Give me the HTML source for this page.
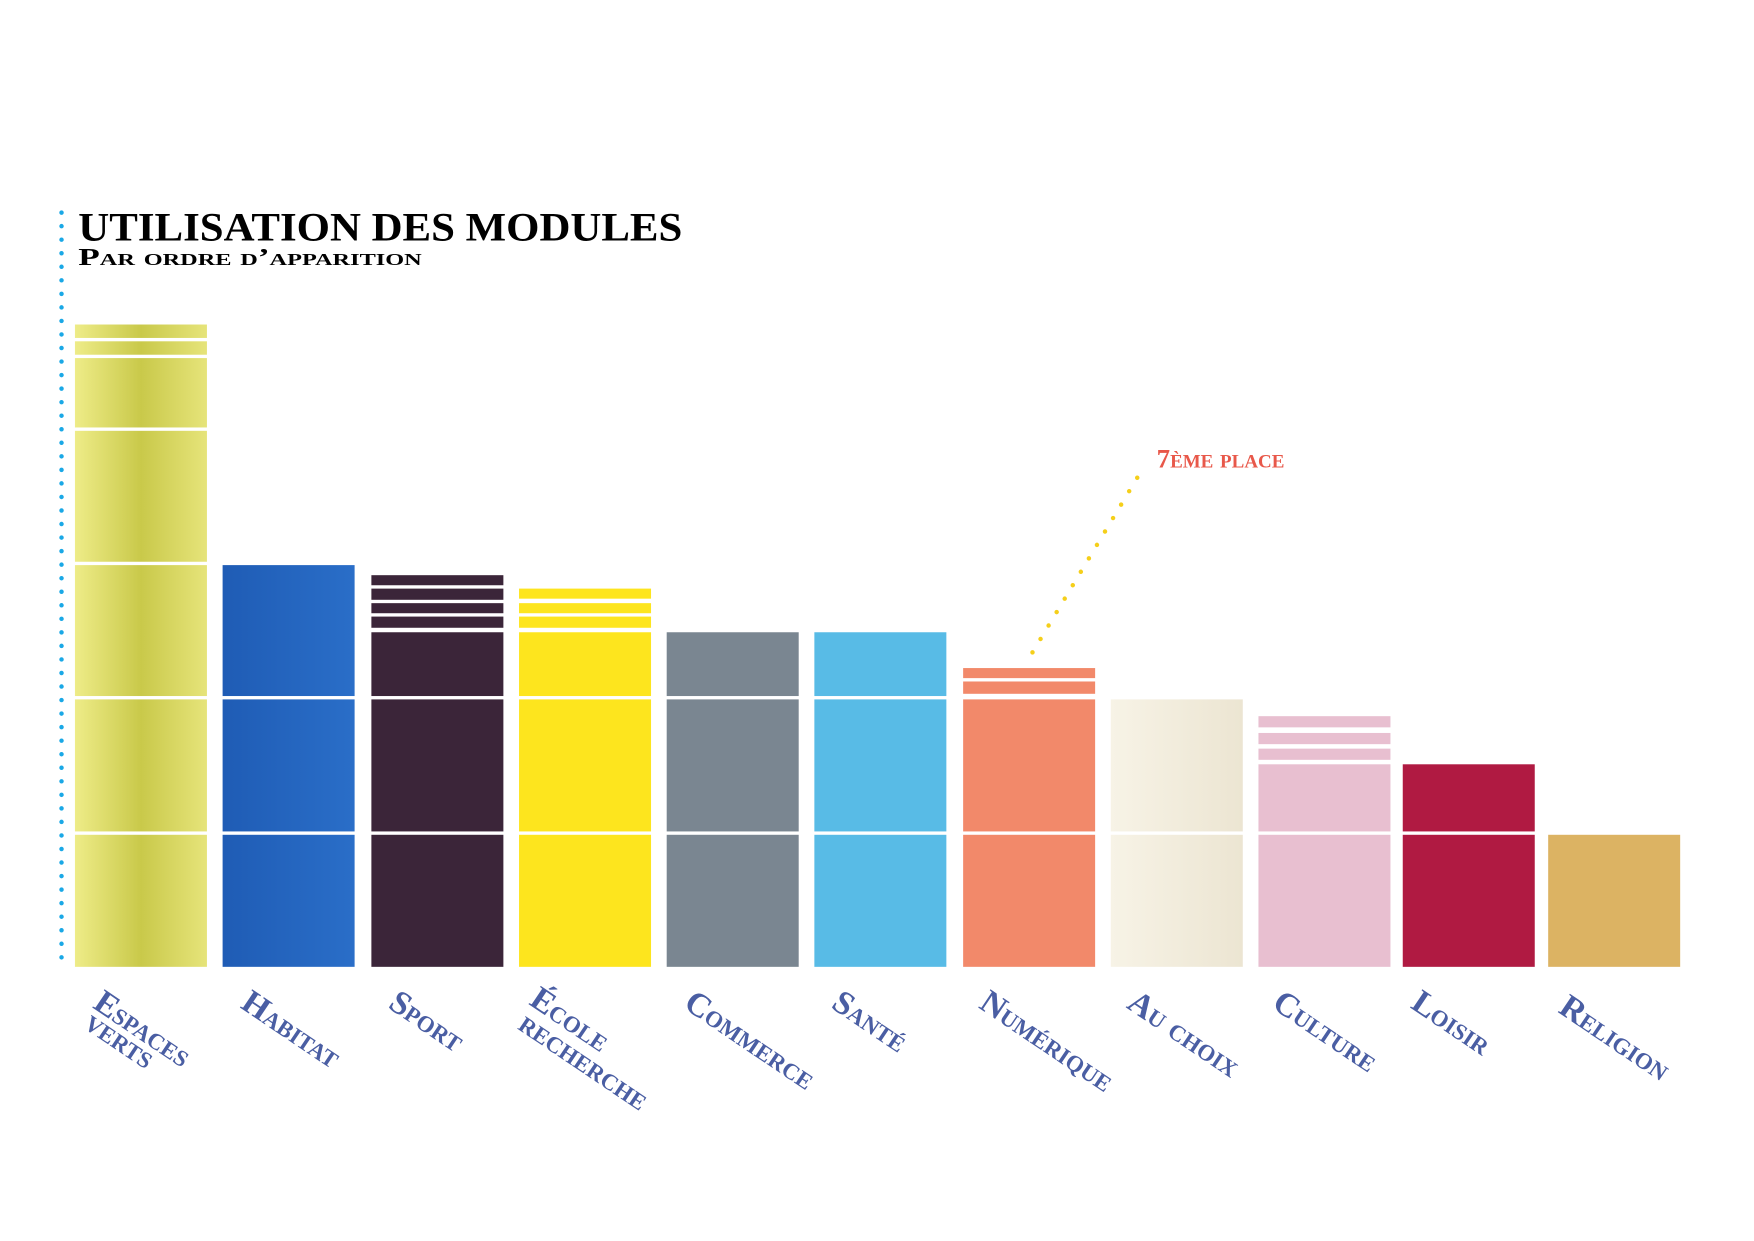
<!DOCTYPE html>
<html><head><meta charset="utf-8"><style>
html,body{margin:0;padding:0;background:#fff;}
svg{display:block}
.lab{font-family:"Liberation Serif",serif;font-weight:bold;font-variant:small-caps;font-size:30px;fill:#4a5ea3;}
</style></head><body>
<svg width="1754" height="1241" viewBox="0 0 1568 1109" preserveAspectRatio="none" xmlns="http://www.w3.org/2000/svg">
<defs>
<linearGradient id="gv" x1="0" x2="1"><stop offset="0" stop-color="#eeec88"/><stop offset="0.5" stop-color="#c9c94a"/><stop offset="1" stop-color="#e6e47a"/></linearGradient>
<linearGradient id="gb" x1="0" x2="1"><stop offset="0" stop-color="#1f5cb5"/><stop offset="1" stop-color="#2a6ec8"/></linearGradient>
<linearGradient id="gc" x1="0" x2="1"><stop offset="0" stop-color="#f7f3e6"/><stop offset="1" stop-color="#ece5d2"/></linearGradient>
</defs>
<line x1="55" y1="190" x2="55" y2="866" stroke="#1aa8e6" stroke-width="4" stroke-linecap="round" stroke-dasharray="0 12.1"/>
<text x="70" y="215" font-family="Liberation Serif,serif" font-weight="bold" font-size="36" fill="#000" textLength="540" lengthAdjust="spacingAndGlyphs">UTILISATION DES MODULES</text>
<text x="70" y="237" font-family="Liberation Serif,serif" font-weight="bold" font-size="22" style="font-variant:small-caps" fill="#000" textLength="307" lengthAdjust="spacingAndGlyphs">Par ordre d’apparition</text>

<g fill="url(#gv)">
<rect x="67" y="746" width="118" height="118"/><rect x="67" y="625" width="118" height="118"/><rect x="67" y="505" width="118" height="117"/><rect x="67" y="385" width="118" height="117"/><rect x="67" y="320" width="118" height="62"/><rect x="67" y="305" width="118" height="12"/><rect x="67" y="290" width="118" height="12"/>
</g>
<g fill="url(#gb)"><rect x="199" y="746" width="118" height="118"/><rect x="199" y="625" width="118" height="118"/><rect x="199" y="505" width="118" height="117"/></g>
<g fill="#3b2539"><rect x="332" y="746" width="118" height="118"/><rect x="332" y="625" width="118" height="118"/><rect x="332" y="565" width="118" height="57"/><rect x="332" y="551" width="118" height="10"/><rect x="332" y="539" width="118" height="9"/><rect x="332" y="526" width="118" height="10"/><rect x="332" y="514" width="118" height="9"/></g>
<g fill="#fde51e"><rect x="464" y="746" width="118" height="118"/><rect x="464" y="625" width="118" height="118"/><rect x="464" y="565" width="118" height="57"/><rect x="464" y="551" width="118" height="10"/><rect x="464" y="539" width="118" height="9"/><rect x="464" y="526" width="118" height="9"/></g>
<g fill="#7a8691"><rect x="596" y="746" width="118" height="118"/><rect x="596" y="625" width="118" height="118"/><rect x="596" y="565" width="118" height="57"/></g>
<g fill="#58bbe6"><rect x="728" y="746" width="118" height="118"/><rect x="728" y="625" width="118" height="118"/><rect x="728" y="565" width="118" height="57"/></g>
<g fill="#f2896a"><rect x="861" y="746" width="118" height="118"/><rect x="861" y="625" width="118" height="118"/><rect x="861" y="609" width="118" height="11"/><rect x="861" y="597" width="118" height="9"/></g>
<g fill="url(#gc)"><rect x="993" y="746" width="118" height="118"/><rect x="993" y="625" width="118" height="118"/></g>
<g fill="#e8bfd0"><rect x="1125" y="746" width="118" height="118"/><rect x="1125" y="683" width="118" height="60"/><rect x="1125" y="669" width="118" height="10"/><rect x="1125" y="655" width="118" height="10"/><rect x="1125" y="640" width="118" height="10"/></g>
<g fill="#b01a42"><rect x="1254" y="746" width="118" height="118"/><rect x="1254" y="683" width="118" height="60"/></g>
<rect x="1384" y="746" width="118" height="118" fill="#dcb363"/>

<line x1="923" y1="583" x2="1022" y2="418" stroke="#f5cf1a" stroke-width="4" stroke-linecap="round" stroke-dasharray="0 14"/>
<text x="1034" y="418" font-family="Liberation Serif,serif" font-weight="bold" font-size="24" style="font-variant:small-caps" fill="#e8584a">7ème place</text>

<g class="lab">
<text transform="translate(82,900) rotate(34)">Espaces</text>
<text transform="translate(74,918) rotate(34)">verts</text>
<text transform="translate(214,900) rotate(34)">Habitat</text>
<text transform="translate(346,900) rotate(34)">Sport</text>
<text transform="translate(472,897) rotate(34)">École</text>
<text transform="translate(462,919) rotate(34)">recherche</text>
<text transform="translate(610,900) rotate(34)">Commerce</text>
<text transform="translate(742,900) rotate(34)">Santé</text>
<text transform="translate(874,900) rotate(34)">Numérique</text>
<text transform="translate(1006,900) rotate(34)">Au choix</text>
<text transform="translate(1136,900) rotate(34)">Culture</text>
<text transform="translate(1260,900) rotate(34)">Loisir</text>
<text transform="translate(1392,904) rotate(34)">Religion</text>
</g>
</svg>
</body></html>
